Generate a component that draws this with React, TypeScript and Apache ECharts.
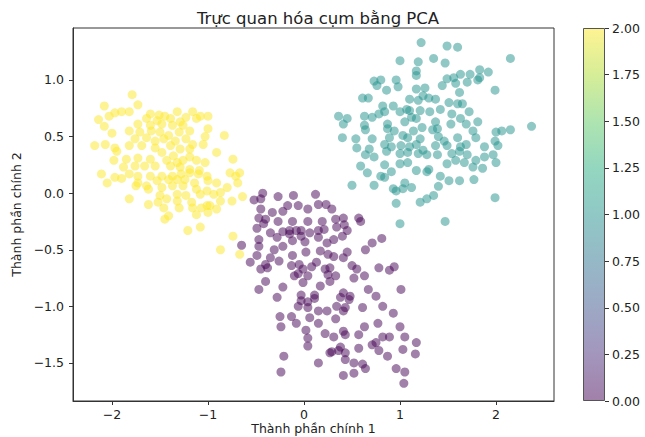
import React, { useEffect, useRef } from "react";
import * as echarts from "echarts";

const FONT = "DejaVu Sans";
const TEXT = "#222222";
const LINE = "#333333";

const title = "Trực quan hóa cụm bằng PCA";
const xName = "Thành phần chính 1";
const yName = "Thành phần chính 2";

const xRange = [-2.406, 2.604];
const yRange = [-1.836, 1.459];
const xTicks = [-2, -1, 0, 1, 2];
const yTicks = [-1.5, -1.0, -0.5, 0.0, 0.5, 1.0];
const colorbarRange = [0, 2];
const colorbarStep = 0.25;

const clusterColors = ["#440154", "#21918c", "#fde725"];
const viridisStops = [
  "#440154", "#472d7b", "#3b528b", "#2c728e", "#21918c",
  "#28ae80", "#5ec962", "#addc30", "#fde725",
];

// cluster label 0 (purple)
const cluster0: [number, number][] = [
  [-0.43, 0.0], [-0.27, -0.03], [-0.11, -0.02], [0.12, -0.01], [-0.52, -0.06], [-0.45, -0.05],
  [-0.45, -0.14], [-0.33, -0.17], [-0.22, -0.16], [-0.17, -0.11], [-0.06, -0.11], [0.04, -0.14],
  [0.15, -0.1], [0.23, -0.1], [0.29, -0.14], [-0.47, -0.22], [-0.4, -0.23], [-0.27, -0.25],
  [-0.12, -0.25], [0.04, -0.25], [0.19, -0.25], [0.41, -0.22], [0.57, -0.22], [0.59, -0.25],
  [0.33, -0.23], [-0.49, -0.31], [-0.42, -0.27], [-0.35, -0.35], [-0.22, -0.34], [-0.15, -0.33],
  [-0.08, -0.33], [-0.03, -0.33], [0.06, -0.35], [0.15, -0.33], [0.21, -0.32], [0.34, -0.3],
  [0.42, -0.28], [0.45, -0.33], [-0.28, -0.39], [-0.15, -0.36], [-0.03, -0.38], [0.15, -0.39],
  [0.24, -0.44], [0.31, -0.41], [0.4, -0.38], [0.71, -0.44], [0.81, -0.4], [-0.47, -0.41],
  [-0.12, -0.42], [0.01, -0.43], [-0.65, -0.46], [-0.47, -0.47], [-0.31, -0.5], [-0.22, -0.47],
  [-0.12, -0.55], [0.02, -0.52], [0.17, -0.51], [0.25, -0.54], [0.31, -0.56], [0.41, -0.57],
  [0.45, -0.52], [0.64, -0.5], [-0.35, -0.57], [-0.49, -0.55], [-0.56, -0.61], [-0.4, -0.63],
  [-0.45, -0.67], [-0.38, -0.66], [-0.26, -0.6], [-0.13, -0.64], [-0.05, -0.63], [-0.01, -0.67],
  [0.08, -0.65], [0.13, -0.61], [0.22, -0.67], [0.27, -0.66], [0.5, -0.64], [0.55, -0.67],
  [0.78, -0.66], [0.89, -0.68], [0.94, -0.65], [-0.1, -0.73], [-0.06, -0.71], [0.04, -0.73],
  [0.25, -0.72], [0.33, -0.73], [0.52, -0.75], [0.63, -0.73], [-0.4, -0.78], [-0.47, -0.85],
  [-0.22, -0.83], [-0.01, -0.79], [0.17, -0.82], [0.27, -0.78], [0.41, -0.88], [0.48, -0.91],
  [0.38, -0.92], [0.67, -0.85], [0.75, -0.91], [1.01, -0.85], [-0.28, -0.92], [-0.03, -0.95],
  [0.04, -0.96], [0.11, -0.93], [-0.06, -1.0], [0.04, -1.01], [0.15, -1.04], [0.24, -1.04],
  [0.43, -1.01], [0.61, -1.01], [0.82, -1.0], [0.93, -1.06], [0.47, -0.94], [0.34, -1.0],
  [-0.03, -0.9], [0.11, -0.9], [-0.25, -1.09], [-0.24, -1.18], [-0.13, -1.09], [-0.08, -1.15],
  [0.06, -1.1], [0.15, -1.15], [0.33, -1.11], [0.41, -1.04], [0.63, -1.18], [0.77, -1.15],
  [1.0, -1.18], [0.02, -1.21], [0.22, -1.24], [0.31, -1.27], [0.41, -1.22], [0.43, -1.25],
  [0.57, -1.25], [0.82, -1.27], [0.89, -1.27], [1.05, -1.27], [0.04, -1.28], [0.04, -1.35],
  [0.29, -1.4], [0.36, -1.39], [0.43, -1.41], [0.27, -1.41], [0.38, -1.36], [0.57, -1.37],
  [0.71, -1.34], [0.75, -1.32], [0.78, -1.39], [0.87, -1.44], [1.17, -1.32], [1.16, -1.42],
  [1.03, -1.38], [-0.21, -1.44], [0.15, -1.5], [0.43, -1.47], [0.52, -1.5], [0.61, -1.51],
  [0.64, -1.55], [0.96, -1.55], [1.05, -1.58], [-0.24, -1.58], [0.41, -1.61], [0.52, -1.59],
  [1.04, -1.68],
];

// cluster label 1 (teal)
const cluster1: [number, number][] = [
  [1.22, 1.33], [1.49, 1.3], [1.6, 1.29], [2.15, 1.19], [1.0, 1.17], [1.19, 1.16], [1.35, 1.19],
  [1.47, 1.15], [1.17, 1.08], [1.17, 1.04], [1.63, 1.05], [1.73, 1.05], [1.83, 1.09], [1.83, 1.02],
  [1.92, 1.07], [1.56, 1.02], [1.49, 1.01], [0.73, 0.99], [0.8, 1.0], [0.96, 1.0], [0.76, 0.95],
  [0.86, 0.91], [0.98, 0.94], [1.17, 0.92], [1.26, 0.93], [1.44, 0.95], [1.58, 0.97], [1.7, 0.98],
  [1.81, 1.0], [1.99, 0.91], [1.62, 0.89], [1.24, 0.86], [0.61, 0.84], [0.67, 0.84], [1.1, 0.83],
  [1.19, 0.82], [1.3, 0.84], [1.37, 0.83], [1.51, 0.8], [1.6, 0.79], [1.65, 0.79], [0.82, 0.77],
  [0.93, 0.77], [1.07, 0.74], [0.84, 0.72], [0.78, 0.7], [0.36, 0.68], [0.45, 0.66], [0.63, 0.68],
  [0.71, 0.67], [1.0, 0.72], [1.1, 0.73], [1.21, 0.73], [1.31, 0.72], [1.42, 0.74], [1.54, 0.7],
  [1.63, 0.66], [1.72, 0.72], [1.17, 0.66], [1.12, 0.67], [0.41, 0.61], [0.63, 0.6], [0.87, 0.61],
  [1.05, 0.63], [1.23, 0.58], [1.37, 0.63], [1.39, 0.57], [1.53, 0.61], [1.69, 0.61], [1.81, 0.63],
  [0.64, 0.56], [0.87, 0.57], [0.94, 0.55], [1.14, 0.55], [1.34, 0.56], [1.76, 0.55], [2.0, 0.54],
  [2.06, 0.55], [2.15, 0.56], [2.37, 0.59], [0.4, 0.49], [0.54, 0.48], [0.71, 0.48], [0.89, 0.49],
  [1.03, 0.51], [1.08, 0.49], [1.21, 0.48], [1.4, 0.5], [1.46, 0.46], [1.6, 0.49], [1.79, 0.49],
  [1.99, 0.46], [0.55, 0.4], [0.68, 0.39], [0.84, 0.43], [0.91, 0.41], [1.01, 0.42], [1.1, 0.41],
  [1.17, 0.43], [1.24, 0.38], [1.37, 0.42], [1.49, 0.42], [1.63, 0.41], [1.69, 0.43], [1.88, 0.41],
  [2.02, 0.42], [0.64, 0.34], [0.73, 0.32], [0.86, 0.37], [1.0, 0.35], [1.08, 0.36], [1.19, 0.35],
  [1.28, 0.34], [1.39, 0.34], [1.54, 0.35], [1.62, 0.37], [1.7, 0.34], [1.79, 0.29], [1.88, 0.32],
  [1.97, 0.34], [0.59, 0.24], [0.84, 0.25], [1.0, 0.26], [1.08, 0.27], [1.3, 0.21], [1.49, 0.26],
  [1.58, 0.29], [1.67, 0.27], [1.76, 0.23], [1.86, 0.22], [2.0, 0.27], [0.66, 0.18], [0.8, 0.15],
  [0.91, 0.19], [1.17, 0.2], [1.28, 0.19], [1.42, 0.15], [1.51, 0.11], [1.62, 0.11], [1.77, 0.12],
  [0.84, 0.14], [0.5, 0.07], [0.73, 0.07], [0.93, 0.04], [1.03, 0.04], [1.12, 0.05], [1.05, 0.09],
  [1.4, 0.06], [0.96, 0.02], [1.21, -0.08], [1.28, -0.05], [1.35, -0.02], [1.99, -0.04],
  [0.96, -0.09], [1.47, -0.25], [1.0, -0.27],
];

// cluster label 2 (yellow)
const cluster2: [number, number][] = [
  [-1.79, 0.87], [-2.08, 0.77], [-1.73, 0.78], [-1.82, 0.72], [-1.9, 0.72], [-1.97, 0.71],
  [-2.03, 0.68], [-1.6, 0.7], [-1.51, 0.69], [-1.32, 0.72], [-1.16, 0.72], [-1.08, 0.68],
  [-1.0, 0.68], [-1.45, 0.68], [-2.14, 0.65], [-1.64, 0.66], [-1.53, 0.64], [-1.39, 0.66],
  [-1.23, 0.67], [-1.12, 0.66], [-2.08, 0.59], [-1.73, 0.61], [-1.6, 0.6], [-1.48, 0.61],
  [-1.37, 0.6], [-1.26, 0.6], [-1.0, 0.57], [-1.29, 0.63], [-2.0, 0.53], [-1.82, 0.55],
  [-1.71, 0.54], [-1.59, 0.55], [-1.5, 0.54], [-1.41, 0.51], [-1.3, 0.54], [-1.19, 0.55],
  [-1.03, 0.5], [-0.83, 0.51], [-1.76, 0.48], [-1.64, 0.49], [-1.55, 0.46], [-1.46, 0.48],
  [-1.34, 0.46], [-1.23, 0.48], [-1.16, 0.43], [-2.18, 0.42], [-2.07, 0.43], [-1.97, 0.4],
  [-1.82, 0.42], [-1.69, 0.42], [-1.55, 0.4], [-1.39, 0.42], [-1.29, 0.39], [-1.19, 0.39],
  [-1.05, 0.43], [-1.95, 0.37], [-1.48, 0.36], [-1.36, 0.33], [-1.19, 0.32], [-0.91, 0.36],
  [-1.03, 0.27], [-1.98, 0.29], [-1.85, 0.3], [-1.73, 0.31], [-1.6, 0.3], [-1.43, 0.29],
  [-1.32, 0.27], [-1.26, 0.29], [-1.12, 0.29], [-0.74, 0.3], [-1.88, 0.23], [-1.76, 0.24],
  [-1.66, 0.24], [-1.55, 0.24], [-1.39, 0.24], [-1.29, 0.23], [-1.19, 0.21], [-1.09, 0.2],
  [-2.11, 0.17], [-1.97, 0.14], [-1.82, 0.17], [-1.73, 0.15], [-1.6, 0.15], [-1.48, 0.15],
  [-1.37, 0.15], [-1.28, 0.17], [-1.19, 0.18], [-1.1, 0.17], [-1.01, 0.15], [-0.77, 0.18],
  [-0.67, 0.18], [-0.71, 0.15], [-2.05, 0.09], [-1.9, 0.13], [-1.73, 0.09], [-1.64, 0.065],
  [-1.53, 0.11], [-1.41, 0.12], [-1.32, 0.12], [-1.24, 0.12], [-1.14, 0.09], [-1.0, 0.11],
  [-0.91, 0.09], [-0.8, 0.05], [-0.69, 0.09], [-1.75, 0.065], [-1.62, 0.035], [-1.48, 0.05],
  [-1.37, 0.065], [-1.26, 0.065], [-1.12, 0.035], [-1.01, 0.02], [-0.87, 0.006], [-1.5, -0.02],
  [-1.32, -0.01], [-1.23, -0.02], [-1.08, -0.01], [-0.94, -0.01], [-0.64, -0.03], [-0.75, -0.07],
  [-1.82, -0.05], [-1.62, -0.1], [-1.52, -0.08], [-1.43, -0.05], [-1.32, -0.07], [-1.17, -0.08],
  [-1.01, -0.11], [-0.87, -0.07], [-1.46, -0.13], [-1.3, -0.13], [-1.16, -0.13], [-1.07, -0.13],
  [-0.98, -0.11], [-1.41, -0.2], [-1.12, -0.19], [-1.0, -0.17], [-0.91, -0.14], [-1.45, -0.23],
  [-1.21, -0.33], [-1.08, -0.3], [-0.74, -0.38], [-0.87, -0.5], [-0.67, -0.54],
];

const clusters = [cluster0, cluster1, cluster2];

const fmtMinus = (s: string) => s.replace("-", "\u2212");

export default function App() {
  const ref = useRef<HTMLDivElement>(null);

  useEffect(() => {
    if (!ref.current) return;
    const chart = echarts.init(ref.current, undefined, { renderer: "svg" });

    const gradient = new echarts.graphic.LinearGradient(
      0, 0, 0, 1,
      viridisStops
        .slice()
        .reverse()
        .map((c, i, arr) => {
          const r = parseInt(c.slice(1, 3), 16);
          const g = parseInt(c.slice(3, 5), 16);
          const b = parseInt(c.slice(5, 7), 16);
          return { offset: i / (arr.length - 1), color: `rgba(${r},${g},${b},0.5)` };
        })
    );

    const cbTicks: number[] = [];
    for (let v = colorbarRange[0]; v <= colorbarRange[1] + 1e-9; v += colorbarStep) cbTicks.push(v);

    const option: any = {
      animation: false,
      textStyle: { fontFamily: FONT },
      title: {
        text: title,
        left: 313,
        top: 5,
        textAlign: "center",
        textStyle: { fontFamily: FONT, fontSize: 16.5, fontWeight: "normal", color: TEXT },
      },
      grid: [
        {
          left: 73, top: 28, width: 481, height: 373,
          outerBoundsMode: "none", containLabel: false,
          show: true, borderColor: LINE, borderWidth: 1, backgroundColor: "transparent",
        },
        { left: 583, top: 28, width: 22, height: 373, outerBoundsMode: "none", containLabel: false },
      ],
      xAxis: [
        {
          type: "value",
          gridIndex: 0,
          min: xRange[0],
          max: xRange[1],
          splitLine: { show: false },
          axisLine: { show: true, onZero: false, lineStyle: { color: LINE, width: 1 } },
          axisTick: { show: true, length: 4, customValues: xTicks, lineStyle: { color: LINE } },
          axisLabel: {
            customValues: xTicks,
            formatter: (v: number) => fmtMinus(String(Math.round(v))),
            fontFamily: FONT,
            fontSize: 12.5,
            color: TEXT,
            margin: 7,
          },
          name: xName,
          nameLocation: "middle",
          nameGap: 20,
          nameMoveOverlap: false,
          nameTextStyle: { fontFamily: FONT, fontSize: 12.5, lineHeight: 14, color: TEXT },
        },
        { type: "category", gridIndex: 1, data: ["cb"], show: false },
      ],
      yAxis: [
        {
          type: "value",
          gridIndex: 0,
          min: yRange[0],
          max: yRange[1],
          splitLine: { show: false },
          axisLine: { show: true, onZero: false, lineStyle: { color: LINE, width: 1 } },
          axisTick: { show: true, length: 4, customValues: yTicks, lineStyle: { color: LINE } },
          axisLabel: {
            customValues: yTicks,
            formatter: (v: number) => fmtMinus(v.toFixed(1)),
            fontFamily: FONT,
            fontSize: 12.5,
            color: TEXT,
            margin: 9,
          },
          name: yName,
          nameLocation: "middle",
          nameGap: 50,
          nameRotate: 90,
          nameMoveOverlap: false,
          nameTextStyle: { fontFamily: FONT, fontSize: 12.5, color: TEXT },
        },
        {
          type: "value",
          gridIndex: 1,
          position: "right",
          min: colorbarRange[0],
          max: colorbarRange[1],
          interval: colorbarStep,
          splitLine: { show: false },
          axisLine: { show: false },
          axisTick: { show: true, length: 4, customValues: cbTicks, lineStyle: { color: LINE } },
          axisLabel: {
            customValues: cbTicks,
            formatter: (v: number) => v.toFixed(2),
            fontFamily: FONT,
            fontSize: 12.5,
            color: TEXT,
            margin: 7,
          },
        },
      ],
      series: [
        {
          type: "bar",
          xAxisIndex: 1,
          yAxisIndex: 1,
          data: [colorbarRange[1]],
          barWidth: "100%",
          silent: true,
          itemStyle: { color: gradient, borderColor: "#555555", borderWidth: 1 },
        },
        ...clusters.map((pts, i) => ({
          type: "scatter",
          xAxisIndex: 0,
          yAxisIndex: 0,
          data: pts,
          symbol: "circle",
          symbolSize: 9,
          silent: true,
          itemStyle: { color: clusterColors[i], opacity: 0.5 },
        })),
      ],
    };

    chart.setOption(option);
    return () => chart.dispose();
  }, []);

  return (
    <div
      ref={ref}
      style={{ position: "fixed", left: 0, top: 0, width: 645, height: 437, background: "#ffffff" }}
    />
  );
}
